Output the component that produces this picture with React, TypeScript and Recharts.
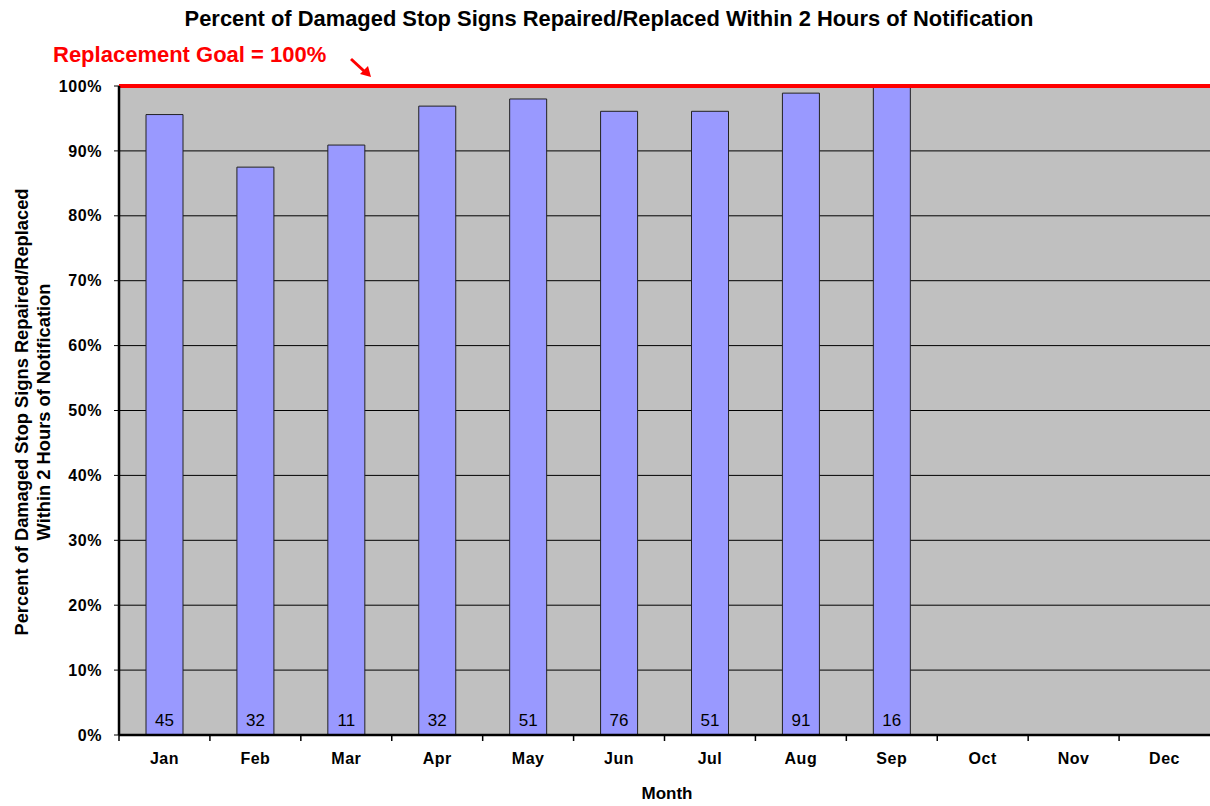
import React from 'react';
import {
  BarChart,
  Bar,
  XAxis,
  YAxis,
  CartesianGrid,
  ReferenceLine,
  LabelList,
} from 'recharts';

const months = ['Jan', 'Feb', 'Mar', 'Apr', 'May', 'Jun', 'Jul', 'Aug', 'Sep', 'Oct', 'Nov', 'Dec'];
const percentRepaired = [95.6, 87.5, 90.9, 96.9, 98.0, 96.1, 96.1, 98.9, 100, null, null, null];
const signCounts = [45, 32, 11, 32, 51, 76, 51, 91, 16, null, null, null];
const yTicks = [0, 10, 20, 30, 40, 50, 60, 70, 80, 90, 100];
const goal = 100;

const data = months.map((m, i) => ({
  month: m,
  pct: percentRepaired[i],
  count: signCounts[i],
}));

const FONT = '"Liberation Sans", Arial, sans-serif';
const WIDTH = 1210;
const HEIGHT = 806;
const PLOT_LEFT = 119;
const BAND = (WIDTH - PLOT_LEFT) / months.length;

function MonthTick(props: any) {
  const { x, y, payload } = props;
  const left = x - BAND / 2;
  return (
    <g>
      <line x1={left} y1={y} x2={left} y2={y + 6} stroke="#000" strokeWidth={1.5} />
      <text
        x={x}
        y={y + 29}
        textAnchor="middle"
        fontFamily={FONT}
        fontWeight="bold"
        fontSize={16}
        letterSpacing={0.5}
        fill="#000"
      >
        {payload.value}
      </text>
    </g>
  );
}

function CountLabel(props: any) {
  const { x, y, width, height, value } = props;
  if (value == null) return null;
  return (
    <text
      x={x + width / 2}
      y={y + height - 9}
      textAnchor="middle"
      fontFamily={FONT}
      fontSize={17}
      fill="#000"
    >
      {value}
    </text>
  );
}

function YTitle() {
  return (
    <g fontFamily={FONT} fontWeight="bold" fontSize={18.3} fill="#000">
      <text x={28} y={412} textAnchor="middle" transform="rotate(-90 28 412)">
        {'Percent of  Damaged Stop Signs Repaired/Replaced'}
      </text>
      <text x={50} y={412} textAnchor="middle" transform="rotate(-90 50 412)">
        Within 2 Hours of Notification
      </text>
    </g>
  );
}

export default function App() {
  return (
    <div style={{ position: 'absolute', left: 0, top: 0, width: WIDTH, height: HEIGHT, background: '#fff' }}>
      <BarChart
        width={WIDTH}
        height={HEIGHT}
        data={data}
        margin={{ top: 86, right: 0, left: 0, bottom: 0 }}
        barCategoryGap={0}
      >
        <CartesianGrid
          vertical={false}
          fill="#C0C0C0"
          fillOpacity={1}
          stroke="#000"
          strokeWidth={1}
        />
        <XAxis
          dataKey="month"
          height={71}
          tickSize={0}
          tickMargin={0}
          tickLine={false}
          interval={0}
          tick={<MonthTick />}
          axisLine={{ stroke: '#000', strokeWidth: 2.5 }}
        />
        <YAxis
          width={PLOT_LEFT}
          domain={[0, 100]}
          ticks={yTicks}
          interval={0}
          tickFormatter={(v: number) => `${v}%`}
          tick={{ fill: '#000', fontSize: 16, fontWeight: 'bold', fontFamily: FONT, letterSpacing: 0.6 }}
          tickSize={5}
          tickMargin={12}
          tickLine={{ stroke: '#000' }}
          axisLine={{ stroke: '#000', strokeWidth: 2.5 }}
          label={<YTitle />}
        />
        <Bar
          dataKey="pct"
          fill="#9999FF"
          stroke="#222"
          strokeWidth={1}
          barSize={37}
          isAnimationActive={false}
        >
          <LabelList dataKey="count" content={<CountLabel />} />
        </Bar>
        <ReferenceLine y={goal} stroke="#FF0000" strokeWidth={4} ifOverflow="visible" />
      </BarChart>
      <svg
        width={WIDTH}
        height={HEIGHT}
        style={{ position: 'absolute', left: 0, top: 0, pointerEvents: 'none' }}
      >
        <text x={609} y={26} textAnchor="middle" fontFamily={FONT} fontWeight="bold" fontSize={21.9} fill="#000">
          Percent of Damaged Stop Signs Repaired/Replaced Within 2 Hours of Notification
        </text>
        <text x={53} y={62} fontFamily={FONT} fontWeight="bold" fontSize={22} fill="#FF0000">
          Replacement Goal = 100%
        </text>
        <line x1={351} y1={59} x2={364} y2={71} stroke="#FF0000" strokeWidth={3} />
        <polygon points="371,77 360,74 368,66" fill="#FF0000" />
        <text x={667} y={799} textAnchor="middle" fontFamily={FONT} fontWeight="bold" fontSize={17} fill="#000">
          Month
        </text>
      </svg>
    </div>
  );
}
